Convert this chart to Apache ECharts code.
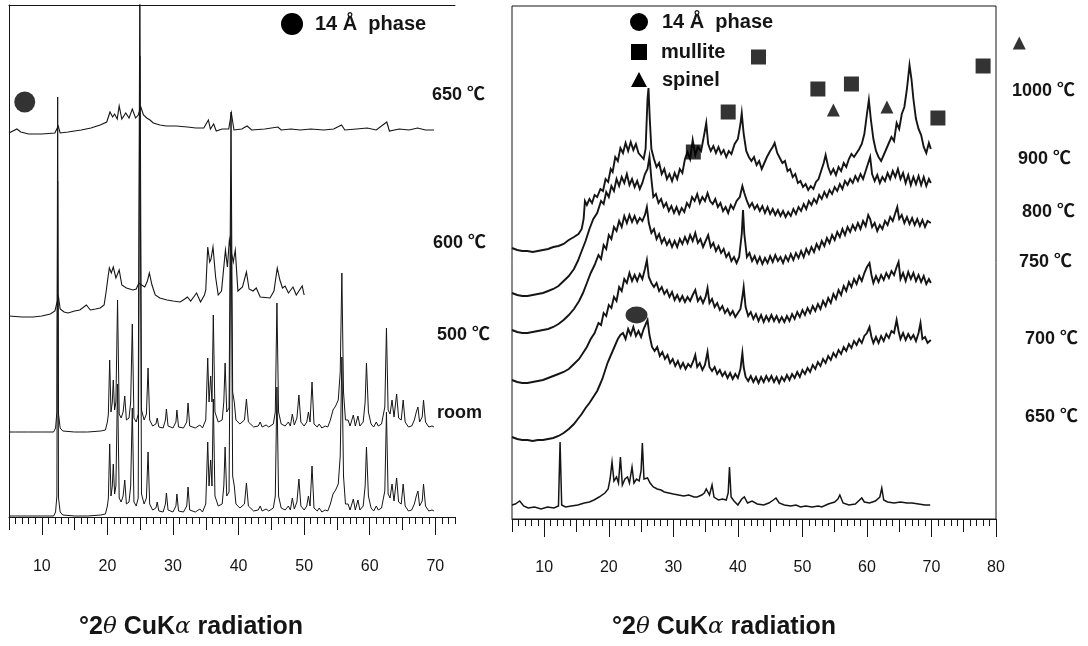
<!DOCTYPE html>
<html>
<head>
<meta charset="utf-8">
<title>XRD patterns</title>
<script src="https://cdn.jsdelivr.net/npm/echarts@6/dist/echarts.min.js"></script>
<style>
  html, body { margin: 0; padding: 0; background: #fff; }
  #chart { width: 1088px; height: 646px; }
</style>
</head>
<body>
<div id="chart"></div>
<script>
// ---------- values: [2theta, intensity (a.u., stack offset included)] ----------

// left panel
var left650 = [[5.0,384],[6.2,388],[6.8,385],[8,383],[10,383],[12,384],[12.5,391],[12.8,384],[14,385],[16,387],[17.5,389],[18.9,392],[19.9,395],[20.4,405],[20.8,400],[21.1,403],[21.5,398],[21.8,411],[22.2,398],[22.8,404],[23.3,399],[23.8,408],[24.3,399],[24.7,402],[25.1,410],[25.5,402],[26,399],[26.5,397],[27,394],[28,392],[29,391],[30.5,391],[32.2,390],[33.5,389],[34.7,389],[35.4,397],[35.7,388],[36.2,393],[36.6,386],[37.5,388],[38.5,388],[38.9,404],[39.3,387],[40.5,388],[41.3,391],[42,387],[44,388],[46,390],[46.5,387],[48,388],[49.4,387],[51,388],[53,387],[54.5,388],[55.7,392],[56.2,387],[58,388],[59.6,389],[61,387],[62.6,395],[63,386],[64.5,388],[66,387],[67.3,389],[68.5,387],[69.8,387]];

var left600 = [[5,201],[7,200],[8.7,200],[10,201],[11.3,203],[12,206],[12.3,214],[12.55,220],[12.8,208],[13.4,205],[14,204],[15,206],[15.8,207],[16.8,212],[17.4,207],[18.2,208],[18.9,209],[19.5,212],[19.8,225],[20.1,240],[20.3,249],[20.6,244],[20.9,250],[21.3,239],[21.8,247],[22.2,232],[22.9,229],[23.9,227],[24.4,228],[24.8,234],[25.2,232],[25.7,230],[26.1,236],[26.4,244],[26.8,232],[27.3,222],[28,219],[29.1,217],[30,216],[31.1,215],[31.8,218],[32.2,220],[32.7,216],[33.6,224],[34.2,215],[34.8,222],[35.0,227],[35.3,270],[35.6,255],[35.8,258],[36.1,270],[36.5,240],[36.9,222],[37.4,226],[38.0,267],[38.3,250],[38.6,277],[38.9,265],[39.2,255],[39.5,267],[39.9,226],[40.6,230],[41.2,245],[41.6,228],[42.2,226],[42.7,229],[43.3,220],[44.8,219],[45.4,226],[45.9,249],[46.3,237],[46.7,229],[47.1,231],[47.6,224],[48.3,230],[48.8,222],[49.2,226],[49.7,231],[50.0,222]];

// room-temperature (kaolinite) pattern, relative to its own baseline; drawn twice in the stack
var kaoliniteRel = [[5,0],[6,0],[8,0],[10,0],[11.8,0],[12.1,4],[12.3,20],[12.42,335],[12.55,18],[12.8,4],[13.2,1],[15,0],[17,0],[19,1],[19.7,2],[20.0,10],[20.15,18],[20.35,72],[20.55,20],[20.75,30],[20.9,52],[21.1,22],[21.3,30],[21.55,132],[21.8,18],[22.1,14],[22.4,20],[22.65,36],[22.9,12],[23.3,14],[23.55,30],[23.8,108],[24.05,14],[24.4,10],[24.7,18],[24.95,460],[25.2,22],[25.6,12],[25.95,18],[26.2,64],[26.45,12],[26.9,6],[27.4,8],[27.6,14],[27.85,5],[28.5,4],[28.85,12],[29.0,23],[29.25,6],[30.0,4],[30.45,10],[30.6,22],[30.85,5],[31.6,4],[32.1,10],[32.3,29],[32.55,6],[33.4,4],[34.1,7],[34.5,4],[35.0,12],[35.3,74],[35.5,30],[35.75,56],[35.95,30],[36.15,117],[36.4,20],[36.9,10],[37.5,12],[37.75,30],[37.95,69],[38.2,20],[38.55,24],[38.85,320],[39.1,40],[39.35,30],[39.6,12],[40.2,8],[40.9,12],[41.2,33],[41.5,10],[42.3,5],[43.0,6],[43.3,10],[43.6,5],[44.2,7],[44.6,5],[45.3,8],[45.6,20],[45.85,129],[46.1,20],[46.5,8],[47.1,6],[47.6,10],[47.9,6],[48.2,18],[48.5,7],[48.9,14],[49.2,37],[49.5,10],[50.0,6],[50.4,10],[50.65,20],[50.9,10],[51.2,50],[51.5,8],[52.0,5],[52.3,8],[52.7,4],[53.2,6],[53.6,5],[54.0,12],[54.4,22],[54.8,26],[55.2,32],[55.5,60],[55.75,159],[56.0,40],[56.3,12],[56.7,12],[57.0,6],[57.5,17],[57.8,6],[58.2,16],[58.5,6],[59.0,10],[59.3,30],[59.5,69],[59.8,20],[60.2,8],[60.6,5],[61.0,10],[61.3,6],[61.8,8],[62.3,25],[62.55,104],[62.8,22],[63.1,18],[63.4,32],[63.7,15],[64.1,38],[64.4,14],[64.8,12],[65.1,32],[65.4,10],[65.9,5],[66.4,6],[66.8,12],[67.1,20],[67.35,25],[67.6,10],[68.0,15],[68.2,32],[68.5,10],[69.0,5],[69.5,6],[69.8,5]];
var roomOffset = 85;
var bottomOffset = 1;

// right panel
var right1000 = [[5.0,271],[5.8,269],[6.6,268],[7.4,268],[8.2,267],[9.0,268],[9.8,269],[10.6,270],[11.4,272],[12.2,273],[13.0,275],[13.8,279],[14.6,282],[15.3,285],[15.8,290],[16.1,300],[16.3,318],[16.6,314],[17.0,320],[17.4,316],[17.8,324],[18.2,322],[18.7,330],[19.1,328],[19.5,340],[19.9,337],[20.3,350],[20.6,347],[21.0,362],[21.4,358],[21.8,371],[22.2,366],[22.6,376],[23.0,368],[23.4,377],[23.8,369],[24.2,375],[24.6,366],[25.0,363],[25.4,360],[25.7,370],[26.0,420],[26.15,431],[26.35,400],[26.6,370],[27.0,360],[27.4,352],[27.8,356],[28.2,345],[28.6,350],[29.0,340],[29.4,345],[29.8,338],[30.2,346],[30.6,340],[31.0,350],[31.4,346],[31.8,360],[32.2,367],[32.6,360],[33.0,379],[33.4,364],[33.8,372],[34.3,368],[34.8,385],[35.1,396],[35.4,375],[35.8,368],[36.2,373],[36.6,366],[37.0,372],[37.4,365],[37.8,369],[38.2,362],[38.6,368],[39.0,365],[39.5,375],[40.0,380],[40.4,395],[40.6,406],[40.9,385],[41.3,368],[41.7,362],[42.1,358],[42.5,362],[42.9,354],[43.3,358],[43.7,350],[44.1,356],[44.5,362],[45.0,368],[45.4,372],[45.7,376],[46.1,366],[46.5,361],[46.9,356],[47.3,358],[47.7,348],[48.1,350],[48.5,342],[48.9,345],[49.3,336],[49.7,338],[50.1,332],[50.5,335],[50.9,329],[51.3,333],[51.7,330],[52.1,337],[52.5,340],[52.9,348],[53.3,356],[53.6,364],[54.0,352],[54.4,345],[54.8,350],[55.2,344],[55.6,352],[56.0,348],[56.4,356],[56.8,352],[57.2,360],[57.6,365],[58.0,362],[58.4,366],[58.8,370],[59.2,375],[59.6,385],[60.0,405],[60.3,419],[60.6,400],[61.0,380],[61.4,368],[61.8,362],[62.2,358],[62.6,364],[63.0,370],[63.4,376],[63.8,382],[64.2,378],[64.6,396],[65.0,390],[65.4,405],[65.8,412],[66.2,430],[66.6,454],[66.9,440],[67.2,420],[67.6,400],[68.0,390],[68.4,384],[68.8,372],[69.2,366],[69.6,376],[69.9,370]];

var right900 = [[5.0,226],[5.8,224],[6.6,223],[7.4,223],[8.2,224],[9.0,225],[9.8,226],[10.6,228],[11.4,230],[12.2,233],[13.0,238],[13.8,243],[14.6,250],[15.2,258],[15.8,268],[16.4,278],[17.0,290],[17.6,300],[18.2,306],[18.8,318],[19.2,315],[19.6,327],[20.0,322],[20.4,333],[20.8,328],[21.2,340],[21.6,333],[22.0,342],[22.4,336],[22.8,345],[23.2,334],[23.6,340],[24.0,332],[24.4,338],[24.8,330],[25.2,336],[25.6,345],[26.0,350],[26.3,362],[26.6,340],[26.9,322],[27.3,325],[27.7,316],[28.1,320],[28.5,312],[28.9,316],[29.3,308],[29.7,313],[30.1,306],[30.5,312],[30.9,305],[31.3,311],[31.7,307],[32.1,316],[32.5,312],[32.9,322],[33.3,318],[33.7,325],[34.1,316],[34.5,322],[34.9,318],[35.3,326],[35.7,318],[36.1,315],[36.5,320],[36.9,312],[37.3,316],[37.7,308],[38.1,312],[38.5,306],[38.9,314],[39.3,310],[39.8,318],[40.3,322],[40.7,333],[41.0,326],[41.4,318],[41.8,312],[42.2,316],[42.6,310],[43.0,314],[43.4,308],[43.8,313],[44.2,306],[44.6,312],[45.0,305],[45.4,310],[45.8,304],[46.2,309],[46.6,303],[47.0,308],[47.4,302],[47.8,307],[48.2,303],[48.6,310],[49.0,305],[49.4,312],[49.8,308],[50.2,315],[50.6,310],[51.0,318],[51.4,314],[51.8,320],[52.2,316],[52.6,324],[53.0,320],[53.4,327],[53.8,322],[54.2,329],[54.6,325],[55.0,332],[55.4,328],[55.8,335],[56.2,330],[56.6,338],[57.0,334],[57.4,340],[57.8,336],[58.2,343],[58.6,338],[59.0,345],[59.4,340],[59.8,348],[60.2,356],[60.5,362],[60.8,345],[61.2,338],[61.6,344],[62.0,336],[62.4,342],[62.8,338],[63.2,346],[63.6,340],[64.0,348],[64.4,342],[64.8,350],[65.2,340],[65.6,346],[66.0,336],[66.4,344],[66.8,334],[67.2,342],[67.6,335],[68.0,343],[68.4,334],[68.8,342],[69.2,333],[69.6,340],[69.9,336]];

var right800 = [[5.0,189],[5.8,187],[6.6,186],[7.4,186],[8.2,187],[9.0,188],[9.8,189],[10.6,190],[11.4,192],[12.2,195],[13.0,199],[13.8,204],[14.6,210],[15.4,218],[16.0,226],[16.6,236],[17.2,246],[17.8,254],[18.4,264],[18.8,260],[19.2,274],[19.6,270],[20.0,284],[20.4,280],[20.8,292],[21.2,288],[21.6,298],[22.0,292],[22.4,303],[22.8,296],[23.2,304],[23.6,297],[24.0,303],[24.4,296],[24.8,301],[25.2,298],[25.6,304],[25.9,312],[26.2,296],[26.6,286],[27.0,290],[27.4,280],[27.8,285],[28.2,276],[28.6,281],[29.0,274],[29.4,279],[29.8,272],[30.2,278],[30.6,272],[31.0,280],[31.4,275],[31.8,282],[32.2,276],[32.6,284],[33.0,278],[33.4,286],[33.8,276],[34.2,280],[34.6,272],[35.0,278],[35.4,284],[35.8,272],[36.2,276],[36.6,268],[37.0,273],[37.4,266],[37.8,270],[38.2,262],[38.6,266],[39.0,258],[39.4,262],[39.8,256],[40.2,262],[40.6,285],[40.8,309],[41.0,285],[41.4,262],[41.8,266],[42.2,258],[42.6,263],[43.0,256],[43.4,262],[43.8,255],[44.2,261],[44.6,256],[45.0,263],[45.4,257],[45.8,264],[46.2,258],[46.6,262],[47.0,256],[47.4,263],[47.8,258],[48.2,265],[48.6,259],[49.0,266],[49.4,261],[49.8,268],[50.2,262],[50.6,270],[51.0,265],[51.4,272],[51.8,267],[52.2,275],[52.6,270],[53.0,278],[53.4,273],[53.8,281],[54.2,276],[54.6,284],[55.0,279],[55.4,287],[55.8,282],[56.2,290],[56.6,284],[57.0,292],[57.4,287],[57.8,294],[58.2,289],[58.6,296],[59.0,290],[59.4,298],[59.8,293],[60.2,304],[60.5,300],[60.8,292],[61.2,296],[61.6,288],[62.0,294],[62.4,290],[62.8,298],[63.2,294],[63.6,302],[64.0,298],[64.4,306],[64.7,312],[65.0,300],[65.4,304],[65.8,296],[66.2,302],[66.6,295],[67.0,301],[67.4,294],[67.8,300],[68.2,293],[68.6,299],[69.0,292],[69.4,298],[69.9,296]];

var right750 = [[5.0,139],[5.8,137],[6.6,136],[7.4,136],[8.2,137],[9.0,138],[9.8,139],[10.6,141],[11.4,143],[12.2,145],[13.0,147],[13.8,150],[14.6,155],[15.4,160],[16.0,166],[16.6,172],[17.2,180],[17.8,186],[18.4,196],[18.8,194],[19.2,206],[19.6,203],[20.0,214],[20.4,211],[20.8,222],[21.2,218],[21.6,232],[22.0,228],[22.4,240],[22.8,236],[23.2,246],[23.6,238],[24.0,244],[24.4,238],[24.8,245],[25.2,240],[25.6,250],[25.9,259],[26.2,242],[26.6,236],[27.0,232],[27.4,236],[27.8,228],[28.2,232],[28.6,225],[29.0,229],[29.4,222],[29.8,227],[30.2,219],[30.6,224],[31.0,218],[31.4,223],[31.8,217],[32.2,222],[32.6,218],[33.0,224],[33.4,229],[33.8,218],[34.2,222],[34.6,216],[35.0,222],[35.3,231],[35.6,216],[36.0,220],[36.4,212],[36.8,216],[37.2,209],[37.6,213],[38.0,206],[38.4,210],[38.8,204],[39.2,208],[39.6,202],[40.0,206],[40.4,210],[40.7,222],[40.9,232],[41.2,212],[41.6,203],[42.0,207],[42.4,200],[42.8,205],[43.2,198],[43.6,204],[44.0,197],[44.4,203],[44.8,198],[45.2,204],[45.6,198],[46.0,203],[46.4,197],[46.8,202],[47.2,197],[47.6,203],[48.0,198],[48.4,205],[48.8,200],[49.2,207],[49.6,202],[50.0,209],[50.4,204],[50.8,211],[51.2,206],[51.6,213],[52.0,208],[52.4,215],[52.8,210],[53.2,218],[53.6,213],[54.0,221],[54.4,216],[54.8,225],[55.2,220],[55.6,229],[56.0,224],[56.4,233],[56.8,228],[57.2,237],[57.6,232],[58.0,240],[58.4,235],[58.8,243],[59.2,238],[59.6,246],[60.0,252],[60.4,256],[60.7,244],[61.0,236],[61.4,243],[61.8,237],[62.2,244],[62.6,239],[63.0,246],[63.4,241],[63.8,248],[64.2,244],[64.6,252],[64.9,257],[65.2,240],[65.6,246],[66.0,238],[66.4,247],[66.8,240],[67.2,246],[67.6,238],[68.0,244],[68.4,237],[68.8,243],[69.2,235],[69.6,240],[69.9,236]];

var right700 = [[5.0,82],[5.8,80],[6.6,79],[7.4,79],[8.2,78],[9.0,79],[9.8,79],[10.6,80],[11.4,81],[12.2,83],[13.0,86],[13.8,90],[14.6,95],[15.2,100],[15.8,105],[16.4,111],[17.0,116],[17.6,122],[18.2,128],[18.6,134],[19.0,140],[19.4,148],[19.8,156],[20.2,162],[20.6,168],[21.0,174],[21.4,180],[21.8,184],[22.2,186],[22.6,180],[23.0,190],[23.4,184],[23.8,192],[24.2,183],[24.6,188],[25.0,182],[25.4,190],[25.8,196],[26.0,199],[26.3,184],[26.7,172],[27.1,168],[27.5,172],[27.9,163],[28.3,167],[28.7,160],[29.1,164],[29.5,156],[29.9,160],[30.3,153],[30.7,158],[31.1,151],[31.5,156],[31.9,150],[32.3,155],[32.7,152],[33.1,158],[33.4,164],[33.7,152],[34.1,156],[34.5,149],[34.9,154],[35.3,167],[35.6,152],[36.0,148],[36.4,152],[36.8,145],[37.2,149],[37.6,143],[38.0,147],[38.4,141],[38.8,146],[39.2,140],[39.6,145],[40.0,141],[40.4,150],[40.7,166],[40.9,152],[41.2,142],[41.6,138],[42.0,143],[42.4,137],[42.8,142],[43.2,136],[43.6,142],[44.0,137],[44.4,143],[44.8,138],[45.2,143],[45.6,137],[46.0,142],[46.4,136],[46.8,142],[47.2,138],[47.6,144],[48.0,139],[48.4,145],[48.8,141],[49.2,147],[49.6,142],[50.0,149],[50.4,145],[50.8,151],[51.2,147],[51.6,154],[52.0,150],[52.4,157],[52.8,153],[53.2,160],[53.6,156],[54.0,163],[54.4,159],[54.8,166],[55.2,162],[55.6,169],[56.0,165],[56.4,172],[56.8,168],[57.2,175],[57.6,171],[58.0,178],[58.4,174],[58.8,180],[59.2,176],[59.6,183],[60.0,186],[60.4,192],[60.7,182],[61.0,176],[61.4,182],[61.8,176],[62.2,183],[62.6,178],[63.0,185],[63.4,181],[63.8,188],[64.2,186],[64.6,199],[64.9,188],[65.2,180],[65.6,186],[66.0,179],[66.4,185],[66.8,180],[67.2,184],[67.6,178],[68.0,186],[68.3,196],[68.6,180],[69.0,182],[69.4,176],[69.9,179]];

var right650 = [[5.0,14],[5.5,15],[6.2,18],[6.8,13],[7.5,11],[8.5,12],[9.5,10],[10.5,12],[11.5,11],[12.2,13],[12.45,77],[12.7,14],[13.3,12],[14.2,13],[15.2,14],[16.2,16],[17.0,17],[17.7,19],[18.5,22],[19.4,26],[19.9,30],[20.2,40],[20.5,57],[20.8,38],[21.2,42],[21.5,36],[21.8,62],[22.1,34],[22.5,40],[22.9,42],[23.2,36],[23.6,52],[23.9,36],[24.3,40],[24.7,38],[25.0,48],[25.2,76],[25.45,40],[25.7,38],[26.0,41],[26.4,36],[26.9,32],[27.5,30],[28.1,29],[28.6,27],[29.3,26],[30.0,25],[30.8,24],[31.6,23],[32.4,24],[33.2,22],[33.7,22],[34.4,24],[34.8,26],[35.1,30],[35.3,32],[35.6,24],[36.0,34],[36.3,22],[37.0,19],[37.6,20],[38.2,19],[38.5,26],[38.7,52],[38.95,22],[39.4,18],[40.0,14],[40.6,20],[41.0,22],[41.5,16],[42.2,18],[43.0,15],[44.0,14],[44.8,16],[45.5,19],[45.9,21],[46.4,16],[47.2,14],[48.2,13],[49.0,14],[49.7,12],[50.5,13],[51.5,12],[52.5,13],[53.0,12],[54.0,15],[55.0,17],[55.5,20],[55.8,24],[56.3,16],[57.2,14],[58.2,15],[59.2,21],[59.6,17],[60.4,16],[61.3,18],[62.0,22],[62.3,31],[62.6,19],[63.2,17],[64.2,16],[65.2,17],[66.2,16],[67.0,16],[68.0,15],[69.0,14],[69.8,14]];

// phase markers placed on the patterns
var leftPhase14 = [[7.4,415]];
var rightPhase14 = [[24.3,204]];
var mulliteMarks = [[33.1,367],[38.5,407],[43.2,462],[52.4,430],[57.6,435],[71.0,401],[78.0,453]];
var spinelMarks = [[54.8,409],[63.1,412],[83.6,476]];

// axis ticks
var leftLabelTicks = [10, 20, 30, 40, 50, 60, 70];
var leftFiveTicks = [5, 10, 15, 20, 25, 30, 35, 40, 45, 50, 55, 60, 65, 70];
var rightLabelTicks = [10, 20, 30, 40, 50, 60, 70, 80];
var rightFiveTicks = [5, 10, 15, 20, 25, 30, 35, 40, 45, 50, 55, 60, 65, 70, 75, 80];

// ---------------------------------------------------------------

var ink = '#151515';
var font = '"Liberation Sans", Arial, "Noto Sans CJK SC", sans-serif';
var chart = echarts.init(document.getElementById('chart'));

var leftBox = { left: 9, top: 5, width: 446, height: 512 };
var rightBox = { left: 512, top: 6, width: 484, height: 513 };

function box(b, extra) {
    var g = { left: b.left, top: b.top, width: b.width, height: b.height, outerBoundsMode: 'none', containLabel: false, show: false };
    for (var k in extra) g[k] = extra[k];
    return g;
}

var grids = [
    box(leftBox), box(leftBox), box(leftBox),
    box(rightBox, { show: true, borderColor: ink, borderWidth: 1 }), box(rightBox), box(rightBox)
];

var lineStyle = { color: ink, width: 1 };
var hidden = { show: false };

function xTicks(grid, min, max, opts) {
    return {
        gridIndex: grid, type: 'value', position: 'bottom', min: min, max: max, interval: opts.interval,
        axisLine: { show: !!opts.line, onZero: false, lineStyle: lineStyle },
        axisTick: { show: true, length: opts.len, customValues: opts.values, lineStyle: lineStyle },
        axisLabel: opts.labels ? { show: true, customValues: opts.values, margin: opts.margin, color: ink, fontSize: 16, fontFamily: font } : hidden,
        splitLine: hidden
    };
}

var xAxes = [
    xTicks(0, 5, 73, { interval: 1, len: 7, line: true }),          // 0: left data axis
    xTicks(1, 5, 73, { len: 13, values: leftFiveTicks }),           // 1
    xTicks(2, 5, 73, { len: 18, values: leftLabelTicks, labels: true, margin: 42 }), // 2
    xTicks(3, 5, 80, { interval: 1, len: 7, line: true }),          // 3: right data axis
    xTicks(4, 5, 80, { len: 13, values: rightFiveTicks }),          // 4
    xTicks(5, 5, 80, { len: 18, values: rightLabelTicks, labels: true, margin: 41 }), // 5
    {                                                               // 6: left panel top rule
        gridIndex: 0, type: 'value', position: 'top', min: 5, max: 73,
        axisLine: { show: true, onZero: false, lineStyle: lineStyle },
        axisTick: hidden, axisLabel: hidden, splitLine: hidden
    }
];

function yAxisFor(grid, max, showLine) {
    return {
        gridIndex: grid, type: 'value', min: 0, max: max,
        axisLine: { show: showLine, onZero: false, lineStyle: lineStyle },
        axisTick: hidden, axisLabel: hidden, splitLine: hidden
    };
}
var yAxes = [
    yAxisFor(0, 512, true), yAxisFor(1, 512, false), yAxisFor(2, 512, false),
    yAxisFor(3, 513, false), yAxisFor(4, 513, false), yAxisFor(5, 513, false)
];

function trace(data, xi, yi, w) {
    return {
        type: 'line', data: data, xAxisIndex: xi, yAxisIndex: yi,
        symbol: 'none', clip: true, silent: true,
        lineStyle: { color: ink, width: w, join: 'miter' }
    };
}

function shifted(rel, off) {
    return rel.map(function (p) { return [p[0], p[1] + off]; });
}

function marks(data, symbol, size) {
    return {
        type: 'scatter', data: data, xAxisIndex: 3, yAxisIndex: 3,
        symbol: symbol, symbolSize: size, clip: false, silent: true,
        itemStyle: { color: '#000' }, z: 5
    };
}

function label(text, x, y, size) {
    return {
        type: 'text', silent: true,
        style: {
            text: text, x: x, y: y, fill: ink,
            font: 'bold ' + (size || 18) + 'px ' + font,
            textVerticalAlign: 'middle', verticalAlign: 'middle'
        }
    };
}

var titleRich = {
    g: { fontFamily: '"DejaVu Serif", serif', fontStyle: 'italic', fontWeight: 'normal', fontSize: 23, fill: ink }
};
function axisTitle(x) {
    return {
        type: 'text', silent: true,
        style: {
            text: '°2{g|θ} CuK{g|α} radiation', x: x, y: 627, fill: ink,
            font: 'bold 25px ' + font, rich: titleRich,
            textVerticalAlign: 'middle', verticalAlign: 'middle'
        }
    };
}

var option = {
    animation: false,
    backgroundColor: '#fff',
    grid: grids,
    xAxis: xAxes,
    yAxis: yAxes,
    series: [
        trace(left650, 0, 0, 1.1),
        trace(left600, 0, 0, 1.1),
        trace(shifted(kaoliniteRel, roomOffset), 0, 0, 1),
        trace(shifted(kaoliniteRel, bottomOffset), 0, 0, 1),
        {
            type: 'scatter', data: leftPhase14, xAxisIndex: 0, yAxisIndex: 0,
            symbol: 'circle', symbolSize: 21, silent: true, itemStyle: { color: '#000' }
        },
        trace(right1000, 3, 3, 1.9),
        trace(right900, 3, 3, 1.9),
        trace(right800, 3, 3, 1.9),
        trace(right750, 3, 3, 1.9),
        trace(right700, 3, 3, 1.9),
        trace(right650, 3, 3, 1.5),
        marks(rightPhase14, 'circle', [22, 17]),
        marks(mulliteMarks, 'rect', 15),
        marks(spinelMarks, 'triangle', 13)
    ],
    graphic: [
        // left legend and labels
        { type: 'circle', silent: true, shape: { cx: 292, cy: 24, r: 11 }, style: { fill: '#000' } },
        label('14 Å  phase', 315, 24, 20),
        label('650 ℃', 432, 95),
        label('600 ℃', 433, 243),
        label('500 ℃', 437, 335),
        label('room', 437, 413),
        axisTitle(79),
        // right legend and labels
        { type: 'circle', silent: true, shape: { cx: 639, cy: 22, r: 9 }, style: { fill: '#000' } },
        label('14 Å  phase', 662, 22, 20),
        { type: 'rect', silent: true, shape: { x: 631, y: 44, width: 16, height: 16 }, style: { fill: '#000' } },
        label('mullite', 661, 52, 20),
        { type: 'polygon', silent: true, shape: { points: [[639, 72], [631, 87], [647, 87]] }, style: { fill: '#000' } },
        label('spinel', 662, 80, 20),
        label('1000 ℃', 1012, 91),
        label('900 ℃', 1018, 159),
        label('800 ℃', 1022, 212),
        label('750 ℃', 1019, 262),
        label('700 ℃', 1025, 339),
        label('650 ℃', 1025, 417),
        axisTitle(612)
    ]
};

chart.setOption(option);
</script>
</body>
</html>
